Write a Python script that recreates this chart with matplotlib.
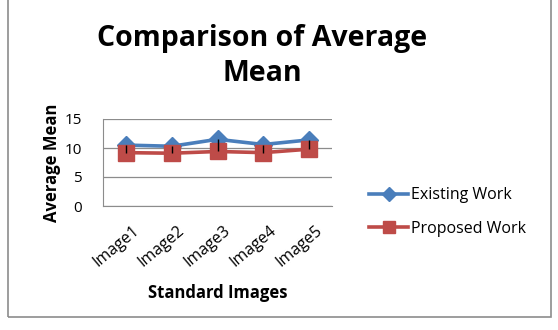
import matplotlib
matplotlib.use("Agg")
import matplotlib.pyplot as plt
from matplotlib.patches import Rectangle
from matplotlib.transforms import ScaledTranslation

categories = ["Image1", "Image2", "Image3", "Image4", "Image5"]
existing = [10.5, 10.3, 11.5, 10.6, 11.4]
proposed = [9.2, 9.1, 9.4, 9.2, 9.8]
yticks = [0, 5, 10, 15]

plt.rcParams['font.family'] = ['Open Sans', 'DejaVu Sans']

fig = plt.figure(figsize=(5.58, 3.30), dpi=100)
fig.patch.set_facecolor('white')

# outer chart frame
fig.patches.append(Rectangle((8/558, 1 - 317/330), (551-8)/558, 317/330 + 0.01,
                             transform=fig.transFigure, fill=False,
                             edgecolor='#8c8c8c', linewidth=1.2))

ax = fig.add_axes([103/558, 1 - 206/330, (332-103)/558, (206-119)/330])
x = list(range(len(categories)))

ax.set_ylim(0, 15)
ax.set_xlim(-0.5, len(categories) - 0.5)
ax.set_yticks(yticks)
ax.yaxis.grid(True, color='#8c8c8c', linewidth=0.9)
ax.set_axisbelow(True)
for s in ['top', 'right']:
    ax.spines[s].set_visible(False)
for s in ['left', 'bottom']:
    ax.spines[s].set_color('#8c8c8c')
ax.tick_params(axis='y', length=0, labelsize=11, pad=15)
ax.tick_params(axis='x', length=0, labelsize=11.5, pad=12)

l1, = ax.plot(x, existing, color='#4A7EBB', linewidth=2.6, marker='D',
              markersize=9, label='Existing Work', zorder=3)
l2, = ax.plot(x, proposed, color='#BE4B48', linewidth=2.6, marker='s',
              markersize=11, label='Proposed Work', zorder=4)
ax.vlines(x, proposed, existing, color='black', linewidth=1.0, zorder=5)

ax.set_xticks(x)
ax.set_xticklabels(categories, rotation=40, ha='right', rotation_mode='anchor')
offset = ScaledTranslation(6/100, 0, fig.dpi_scale_trans)
for lbl in ax.get_xticklabels():
    lbl.set_transform(lbl.get_transform() + offset)

ax.set_ylabel('Average Mean', fontsize=12, fontweight='bold', labelpad=3)
ax.set_xlabel('Standard Images', fontsize=12, fontweight='bold', labelpad=10)

fig.text(262/558, 1 - 56/330, 'Comparison of Average\nMean', ha='center', va='center',
         fontsize=20.5, fontweight='bold', linespacing=1.3)

fig.legend(handles=[l1, l2], loc='center left', bbox_to_anchor=(355/558, 1 - 212/330),
           frameon=False, fontsize=11.5, handlelength=2.4, handletextpad=0.2,
           labelspacing=1.1, markerscale=0.75)

fig.savefig('out.png', dpi=100)
